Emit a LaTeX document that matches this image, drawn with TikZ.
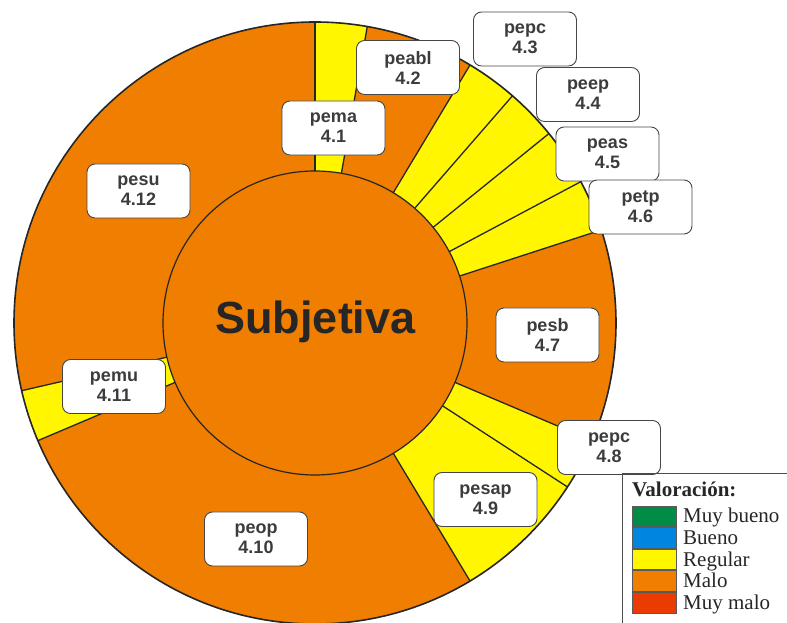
\documentclass[tikz,border=0pt]{standalone}
\usepackage{fontspec}
\setmainfont{Liberation Serif}
\newfontfamily\labelfont{Liberation Sans}
\begin{document}
\definecolor{malo}{RGB}{240,126,0}
\definecolor{regular}{RGB}{255,246,0}
\definecolor{muybueno}{RGB}{0,140,70}
\definecolor{bueno}{RGB}{0,134,222}
\definecolor{muymalo}{RGB}{234,60,0}
\definecolor{ink}{RGB}{38,38,38}
\definecolor{boxline}{RGB}{70,70,70}
\begin{tikzpicture}[x=1pt,y=1pt,
  lbl/.style={draw=boxline,line width=0.9pt,fill=white,rounded corners=8pt,
    minimum width=103pt,minimum height=54pt,align=center,inner sep=0pt,
    text=ink!90,font=\labelfont\bfseries\fontsize{18}{20}\selectfont},
  radial/.style={draw=ink,line width=1.3pt},
  swatch/.style={draw=gray!70!black,line width=0.7pt},
  legtext/.style={anchor=base west,inner sep=0pt,text=ink,font=\fontsize{21}{22}\selectfont}]
\useasboundingbox (0,0) rectangle (787,623);

% ring and its segments
\begin{scope}[shift={(315,300)}]
  \fill[malo] (0,0) circle[radius=301];
  % yellow segments: 4.1, 4.3-4.6, 4.8-4.9, 4.11
  \foreach \a/\b in {80/90, 18/59, -59/-23, 193/203}{
    \fill[regular] (\a:152) arc[start angle=\a,end angle=\b,radius=152]
      -- (\b:301) arc[start angle=\b,end angle=\a,radius=301] -- cycle;
  }
  % segment boundaries
  \foreach \a in {90,80,59,49,39,28,18,-23,-33,-59,203,193}{
    \draw[radial] (\a:152) -- (\a:301);
  }
  \draw[ink,line width=1.6pt] (0,0) circle[radius=301];
  \node[circle,fill=malo,draw=ink,line width=1.2pt,minimum size=304pt,inner sep=0pt] (core) at (0,0) {};
\end{scope}
\node[anchor=base,inner sep=0pt,text=ink,font=\labelfont\bfseries\fontsize{45}{50}\selectfont] (title) at (315.5,289) {Subjetiva};

% segment labels
\node[lbl] (pema)  at (333.5,495)   {pema\\4.1};
\node[lbl] (peabl) at (408,555.5)   {peabl\\4.2};
\node[lbl] (pepcA) at (525,584)     {pepc\\4.3};
\node[lbl] (peep)  at (588,528.5)   {peep\\4.4};
\node[lbl] (peas)  at (607.5,469)   {peas\\4.5};
\node[lbl] (petp)  at (640.5,416)   {petp\\4.6};
\node[lbl] (pesb)  at (547.5,288)   {pesb\\4.7};
\node[lbl] (pepcB) at (609,175.5)   {pepc\\4.8};
\node[lbl] (pesap) at (485.5,123.5) {pesap\\4.9};
\node[lbl] (peop)  at (256,84)      {peop\\4.10};
\node[lbl] (pemu)  at (114,236.5)   {pemu\\4.11};
\node[lbl] (pesu)  at (138.5,432)   {pesu\\4.12};

% legend
\draw[gray!60!black,line width=1pt] (622,0) -- (622,149) -- (787,149);
\node[anchor=base west,inner sep=0pt,text=ink,font=\bfseries\fontsize{21}{22}\selectfont] (legtitle) at (632,126) {Valoración:};
\foreach \c/\t/\k [count=\i from 0] in {muybueno/Muy bueno/lA, bueno/Bueno/lB, regular/Regular/lC, malo/Malo/lD, muymalo/Muy malo/lE}{
  \pgfmathsetmacro{\top}{623-506-21.6*\i}
  \fill[\c] (632,\top) rectangle (676,\top-20.5);
  \draw[swatch] (632,\top) rectangle (676,\top-20.5);
  \node[legtext] (\k) at (683,\top-17) {\t};
}
\end{tikzpicture}
\end{document}
